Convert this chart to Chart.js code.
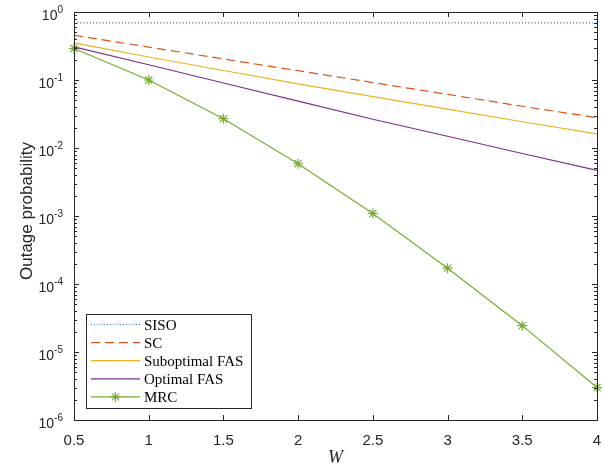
<!DOCTYPE html>
<html>
<head>
<meta charset="utf-8">
<script src="https://cdn.jsdelivr.net/npm/chart.js@4.4.0/dist/chart.umd.min.js"></script>
<style>
html, body { margin: 0; padding: 0; background: #fff; }
</style>
</head>
<body>
<canvas id="chart" width="606" height="469"></canvas>
<script>
// values
var wValues = [0.5, 1, 1.5, 2, 2.5, 3, 3.5, 4];
var siso = [0.69, 0.69, 0.69, 0.69, 0.69, 0.69, 0.69, 0.69];
var sc = [0.455, 0.305, 0.204, 0.137, 0.0917, 0.0614, 0.0411, 0.0279];
var suboptFas = [0.352, 0.218, 0.138, 0.0879, 0.0568, 0.0372, 0.0243, 0.0161];
var optFas = [0.307, 0.1675, 0.0903, 0.0489, 0.0265, 0.0149, 0.0083, 0.00468];
var mrc = [0.29, 0.1, 0.027, 0.00587, 0.00109, 0.000171, 0.0000244, 0.000003];

var xTicks = [0.5, 1, 1.5, 2, 2.5, 3, 3.5, 4];
var xTickLabels = ['0.5', '1', '1.5', '2', '2.5', '3', '3.5', '4'];
var yExponents = [0, -1, -2, -3, -4, -5, -6];

function pairs(ys) {
    return wValues.map(function (w, i) { return { x: w, y: ys[i] }; });
}

var axisColor = '#262626';

var matlabAxes = {
    id: 'matlabAxes',
    afterDraw: function (chart) {
        var ctx = chart.ctx;
        var a = chart.chartArea;
        var xs = chart.scales.x, ys = chart.scales.y;
        ctx.save();
        ctx.strokeStyle = axisColor;
        ctx.fillStyle = axisColor;
        ctx.lineWidth = 1;

        // box
        ctx.strokeRect(Math.round(a.left) + 0.5, Math.round(a.top) + 0.5,
            Math.round(a.right - a.left), Math.round(a.bottom - a.top));

        // x ticks, bottom and top
        ctx.beginPath();
        xTicks.forEach(function (v) {
            var px = Math.round(xs.getPixelForValue(v)) + 0.5;
            ctx.moveTo(px, a.bottom); ctx.lineTo(px, a.bottom - 5);
            ctx.moveTo(px, a.top); ctx.lineTo(px, a.top + 5);
        });
        // y ticks, left and right, major + minor
        yExponents.forEach(function (e) {
            var py = Math.round(ys.getPixelForValue(Math.pow(10, e))) + 0.5;
            ctx.moveTo(a.left, py); ctx.lineTo(a.left + 5, py);
            ctx.moveTo(a.right, py); ctx.lineTo(a.right - 5, py);
            if (e < 0) {
                for (var k = 2; k <= 9; k++) {
                    var my = Math.round(ys.getPixelForValue(k * Math.pow(10, e))) + 0.5;
                    ctx.moveTo(a.left, my); ctx.lineTo(a.left + 3, my);
                    ctx.moveTo(a.right, my); ctx.lineTo(a.right - 3, my);
                }
            }
        });
        ctx.stroke();

        // x tick labels
        ctx.font = '15px "Liberation Sans", Arial, sans-serif';
        ctx.textAlign = 'center';
        ctx.textBaseline = 'alphabetic';
        xTicks.forEach(function (v, i) {
            ctx.fillText(xTickLabels[i], xs.getPixelForValue(v), a.bottom + 25);
        });

        // y tick labels 10^e
        yExponents.forEach(function (e) {
            var py = ys.getPixelForValue(Math.pow(10, e));
            var exp = String(e);
            ctx.font = '10px "Liberation Sans", Arial, sans-serif';
            var w2 = ctx.measureText(exp).width;
            ctx.font = '14px "Liberation Sans", Arial, sans-serif';
            var w1 = ctx.measureText('10').width;
            var right = a.left - 11;
            ctx.textAlign = 'left';
            ctx.fillText('10', right - w2 - w1, py + 8);
            ctx.font = '10px "Liberation Sans", Arial, sans-serif';
            ctx.fillText(exp, right - w2, py + 1);
        });

        // axis titles
        ctx.textAlign = 'center';
        ctx.font = '17px "Liberation Sans", Arial, sans-serif';
        ctx.save();
        ctx.translate(31.5, (a.top + a.bottom) / 2 - 5);
        ctx.rotate(-Math.PI / 2);
        ctx.fillText('Outage probability', 0, 0);
        ctx.restore();
        ctx.font = 'italic 18px "Liberation Serif", "Times New Roman", serif';
        ctx.fillText('W', (a.left + a.right) / 2, 463);

        // legend, inside lower left
        var lx = 86.5, ly = 314.5, lw = 165, lh = 94;
        ctx.fillStyle = '#fff';
        ctx.fillRect(lx, ly, lw, lh);
        ctx.strokeStyle = axisColor;
        ctx.strokeRect(lx, ly, lw, lh);
        ctx.font = '15px "Liberation Serif", "Times New Roman", serif';
        ctx.textAlign = 'left';
        chart.data.datasets.forEach(function (ds, i) {
            var y = 324.5 + i * 18.1;
            ctx.save();
            ctx.strokeStyle = ds.borderColor;
            ctx.fillStyle = ds.borderColor;
            ctx.lineWidth = ds.borderWidth;
            ctx.setLineDash(ds.borderDash || []);
            ctx.beginPath();
            ctx.moveTo(91, y); ctx.lineTo(140, y);
            ctx.stroke();
            ctx.setLineDash([]);
            if (ds.pointRadius > 0) {
                Chart.helpers.drawPoint(ctx, {
                    pointStyle: ds.pointStyle,
                    radius: ds.pointRadius,
                    borderWidth: ds.pointBorderWidth,
                    rotation: 0
                }, 115.5, y);
            }
            ctx.restore();
            ctx.fillStyle = '#000';
            ctx.fillText(ds.label, 144, y + 5);
        });
        ctx.restore();
    }
};

function lineSet(label, values, color, dash, extra) {
    var ds = {
        label: label,
        data: pairs(values),
        borderColor: color,
        backgroundColor: color,
        borderWidth: 1.2,
        borderDash: dash,
        pointRadius: 0,
        tension: 0,
        clip: false
    };
    for (var k in extra) ds[k] = extra[k];
    return ds;
}

var config = {
    type: 'line',
    data: {
        datasets: [
            lineSet('SISO', siso, '#0072BD', [1, 2.2], {}),
            lineSet('SC', sc, '#D95319', [9, 5], {}),
            lineSet('Suboptimal FAS', suboptFas, '#EDB120', [], {}),
            lineSet('Optimal FAS', optFas, '#7E2F8E', [], {}),
            lineSet('MRC', mrc, '#77AC30', [], {
                pointStyle: 'star',
                pointRadius: 5,
                pointBorderColor: '#77AC30',
                pointBorderWidth: 1.2,
                pointHoverRadius: 5
            })
        ]
    },
    options: {
        responsive: false,
        animation: false,
        devicePixelRatio: 1,
        layout: { padding: { left: 74, right: 9, top: 12, bottom: 49 } },
        plugins: {
            legend: { display: false },
            tooltip: { enabled: false }
        },
        scales: {
            x: { type: 'linear', min: 0.5, max: 4, display: false },
            y: { type: 'logarithmic', min: 1e-6, max: 1, display: false }
        }
    },
    plugins: [matlabAxes]
};

window.outageChart = new Chart(document.getElementById('chart').getContext('2d'), config);
</script>
</body>
</html>
